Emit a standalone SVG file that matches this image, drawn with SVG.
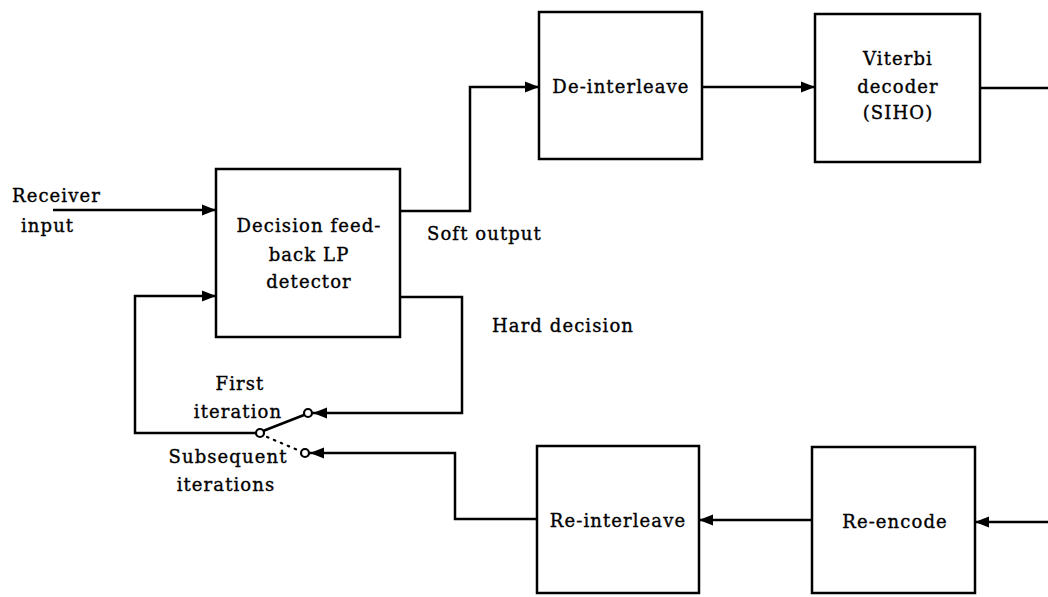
<svg xmlns="http://www.w3.org/2000/svg" width="1048" height="597" viewBox="0 0 1048 597">
<style>
.box{fill:none;stroke:#000;stroke-width:2.5}
.ln{fill:none;stroke:#000;stroke-width:2.5}
.arr{marker-end:url(#ah)}
.dot{fill:none;stroke:#000;stroke-width:2.2;stroke-dasharray:1.5 6;stroke-linecap:round}
.ct{fill:#fff;stroke:#000;stroke-width:2.2}
text{font-family:"DejaVu Serif","Liberation Serif",serif;font-size:18px;fill:#000;stroke:#000;stroke-width:0.35;letter-spacing:1.1px}
.m{text-anchor:middle}
</style>
<defs>
<marker id="ah" markerUnits="userSpaceOnUse" markerWidth="15" markerHeight="13" refX="14" refY="6.5" orient="auto">
<path d="M0,1 L14,6.5 L0,12 Z" fill="#000"/>
</marker>
</defs>
<rect width="1048" height="597" fill="#fff"/>
<g id="connectors">
<polyline class="ln arr" points="53,210 216,210"/>
<polyline class="ln arr" points="400,211 470,211 470,87 539,87"/>
<polyline class="ln arr" points="702,87 815,87"/>
<polyline class="ln" points="980,88 1048,88"/>
<polyline class="ln arr" points="1048,522 975,522"/>
<polyline class="ln arr" points="812,520 699,520"/>
<polyline class="ln arr" points="537,519 455,519 455,453 310,453"/>
<polyline class="ln arr" points="400,297 462,297 462,413 313,413"/>
<polyline class="ln arr" points="256,433 135,433 135,296 216,296"/>
<line class="ln" x1="263" y1="431" x2="304" y2="415"/>
<line class="dot" x1="267" y1="437" x2="300" y2="451"/>
<circle class="ct" cx="260" cy="433" r="4"/>
<circle class="ct" cx="308" cy="413" r="4"/>
<circle class="ct" cx="305" cy="453" r="4"/>
</g>
<g id="receiver-input">
<text x="12" y="202">Receiver</text>
<text x="21" y="232">input</text>
</g>
<g id="detector">
<rect class="box" x="216" y="169" width="184" height="168"/>
<text class="m" x="309" y="232">Decision feed-</text>
<text class="m" x="309" y="261">back LP</text>
<text class="m" x="309" y="288">detector</text>
</g>
<g id="soft-output"><text x="427" y="240">Soft output</text></g>
<g id="hard-decision"><text x="492" y="332">Hard decision</text></g>
<g id="de-interleave">
<rect class="box" x="539" y="12" width="163" height="147"/>
<text class="m" x="621" y="93">De-interleave</text>
</g>
<g id="viterbi">
<rect class="box" x="815" y="14" width="165" height="148"/>
<text class="m" x="898" y="65">Viterbi</text>
<text class="m" x="898" y="93">decoder</text>
<text class="m" x="898" y="119">(SIHO)</text>
</g>
<g id="re-interleave">
<rect class="box" x="537" y="446" width="162" height="147"/>
<text class="m" x="618" y="527">Re-interleave</text>
</g>
<g id="re-encode">
<rect class="box" x="812" y="447" width="163" height="146"/>
<text class="m" x="895" y="528">Re-encode</text>
</g>
<g id="switch-labels">
<text class="m" x="240" y="390">First</text>
<text class="m" x="238" y="418">iteration</text>
<text class="m" x="228" y="463">Subsequent</text>
<text class="m" x="226" y="491">iterations</text>
</g>
</svg>
